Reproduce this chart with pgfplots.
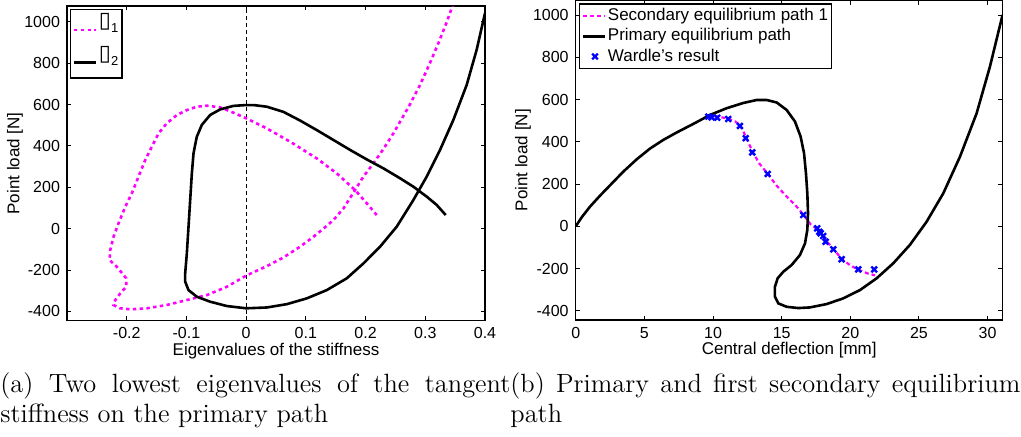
\documentclass[border=0pt]{standalone}
\usepackage{fontspec}
\setsansfont{Liberation Sans}
\newfontfamily\dejavu{DejaVu Sans}
\usepackage{pgfplots}
\pgfplotsset{compat=1.18}
\definecolor{mag}{RGB}{255,0,255}
\definecolor{myblue}{RGB}{0,0,255}
\pgfplotsset{
  mystyle/.style={
    scale only axis,
    axis line style={line width=0.7pt},
    tick style={line width=0.5pt, black},
    major tick length=2.2pt,
    tick align=inside,
    /pgf/number format/assume math mode=true,
    /pgf/number format/1000 sep={},
    scaled ticks=false,
    ticklabel style={font=\sffamily\fontsize{8}{9.6}\selectfont},
    label style={font=\sffamily\fontsize{8.5}{10}\selectfont},
    ytick={-400,-200,0,200,400,600,800,1000},
    legend image code/.code={\draw[##1] (0pt,0pt) -- (11pt,0pt);},
    legend cell align=left,
  },
  markleg/.style={legend image code/.code={\draw[##1] plot coordinates {(6pt,0pt)};}},
  lowleg/.style={legend image code/.code={\draw[##1, line width=1.3pt] (0pt,-1.2pt) -- (11pt,-1.2pt);}},
}
\newcommand\boxglyph[1]{{\dejavu\fontsize{11}{12}\selectfont ▯}\raisebox{-2.3pt}{\fontsize{6.5}{7}\selectfont #1}}
\begin{document}
\begin{tikzpicture}
\useasboundingbox (0,0) rectangle (510.5pt,-218pt);
% ---------------- left axis ----------------
\begin{axis}[mystyle,
  at={(33.5pt,-160.35pt)}, anchor=south west,
  width=209pt, height=157.35pt,
  xmin=-0.3, xmax=0.4, ymin=-445, ymax=1077,
  xtick={-0.2,-0.1,0,0.1,0.2,0.3,0.4},
  xticklabels={-0.2,-0.1,0,0.1,0.2,0.3,0.4},
  xlabel={Eigenvalues of the stiffness},
  ylabel={Point load [N]},
  xlabel style={at={(axis description cs:0.5,-0.109)}, anchor=base},
  ylabel style={at={(axis description cs:-0.1244,0.5)}, anchor=center},
  legend style={at={(axis description cs:0,1)}, anchor=north west,
    xshift=1.5pt, yshift=-1.5pt, draw=black, line width=0.7pt,
    inner xsep=1pt, inner ysep=1pt, row sep=0.5pt,
    font=\sffamily\fontsize{8.5}{10}\selectfont,
    nodes={inner xsep=0.8pt, inner ysep=1.25pt, text height=6.8pt, text depth=6.5pt}},
]
\addplot[black, line width=0.5pt, dash pattern=on 2pt off 1.5pt, forget plot]
  coordinates {(0,-445) (0,1077)};
\addplot[mag, line width=1.3pt, dash pattern=on 1.7pt off 1.7pt, lowleg] coordinates {
(0.2187,66) (0.2020,123) (0.1824,187) (0.1517,268) (0.1183,340) (0.0736,421)
(0.0346,485) (0,534) (-0.0212,561) (-0.0435,587) (-0.0658,595) (-0.0826,590)
(-0.0993,574) (-0.1160,550) (-0.1328,510) (-0.1467,461) (-0.1579,397)
(-0.1690,332) (-0.1802,252) (-0.1914,171) (-0.2025,106) (-0.2137,26)
(-0.2220,-39) (-0.2276,-103) (-0.2287,-152) (-0.2165,-184) (-0.2008,-240)
(-0.2008,-281) (-0.2109,-313) (-0.2192,-345) (-0.2220,-369) (-0.2109,-385)
(-0.1941,-390) (-0.1662,-385) (-0.1328,-369) (-0.0993,-345) (-0.0658,-321)
(-0.0324,-281) (0,-227) (0.0346,-181) (0.0625,-139) (0.0904,-87) (0.1127,-39)
(0.1294,0) (0.1462,42) (0.1629,98) (0.1824,187) (0.1964,252) (0.2131,316)
(0.2298,385) (0.2466,461) (0.2745,602) (0.2912,695) (0.3079,802) (0.3219,897)
(0.3358,998) (0.3470,1090)
};
\addlegendentry{\boxglyph{1}}
\addplot[black, line width=1.3pt, lowleg] coordinates {
(0.3342,66) (0.3191,115) (0.3024,155) (0.2801,203) (0.2577,244) (0.2298,292)
(0.2020,335) (0.1741,381) (0.1462,429) (0.1183,477) (0.0904,523) (0.0625,565)
(0.0346,590) (0.0123,598) (0,598) (-0.0212,594) (-0.0435,577) (-0.0603,550)
(-0.0742,502) (-0.0826,445) (-0.0881,365) (-0.0909,268) (-0.0937,139)
(-0.0965,10) (-0.0993,-119) (-0.1021,-216) (-0.1021,-256) (-0.0965,-297)
(-0.0826,-329) (-0.0603,-353) (-0.0324,-374) (0,-385) (0.0346,-381)
(0.0681,-365) (0.1015,-337) (0.1350,-297) (0.1685,-240) (0.1964,-168)
(0.2243,-87) (0.2522,10) (0.2801,139) (0.3024,252) (0.3247,381) (0.3470,526)
(0.3693,695) (0.3860,865) (0.4,1042)
};
\addlegendentry{\boxglyph{2}}
\end{axis}
% ---------------- right axis ----------------
\begin{axis}[mystyle,
  at={(287.85pt,-160pt)}, anchor=south west,
  width=213.5pt, height=159.75pt,
  xmin=0, xmax=31.1, ymin=-443.6, ymax=1069,
  xtick={0,5,10,15,20,25,30},
  xlabel={Central deflection [mm]},
  ylabel={Point load [N]},
  xlabel style={at={(axis description cs:0.5,-0.1095)}, anchor=base},
  ylabel style={at={(axis description cs:-0.1234,0.5)}, anchor=center},
  legend style={at={(axis description cs:0,1)}, anchor=north west,
    xshift=1.65pt, yshift=-1.4pt, draw=black, line width=0.7pt,
    inner xsep=1pt, inner ysep=1pt, row sep=0pt,
    font=\sffamily\fontsize{8.5}{10}\selectfont,
    nodes={inner xsep=0.8pt, inner ysep=1pt, text height=6.3pt, text depth=1.8pt}},
]
\addplot[mag, line width=1.1pt, dash pattern=on 2pt off 1.5pt] coordinates {
(9.6,523) (10.3,520) (11.1,510) (11.6,497) (12.0,478) (12.4,423) (12.9,350)
(13.4,295) (14.0,248) (14.6,195) (15.3,145) (16.0,100) (16.6,54) (17.1,10)
(17.6,-14) (18.0,-46) (18.4,-80) (18.8,-110) (19.4,-156) (20.0,-185)
(20.6,-206) (21.3,-224) (21.8,-232)
};
\addlegendentry{Secondary equilibrium path 1}
\addplot[black, line width=1.3pt] coordinates {
(0,0) (0.44,43) (1.04,93) (1.77,145) (2.50,194) (3.47,259) (4.44,317)
(5.41,368) (6.38,409) (7.35,444) (8.57,485) (9.78,527) (10.99,559)
(12.21,584) (13.18,598) (13.91,598) (14.64,586) (15.36,551) (15.97,496)
(16.38,425) (16.63,346) (16.77,251) (16.87,156) (16.92,62) (16.87,-17)
(16.70,-81) (16.33,-136) (15.73,-183) (15.12,-215) (14.71,-246) (14.51,-286)
(14.51,-333) (14.76,-365) (15.36,-381) (16.21,-387) (17.06,-384) (18.28,-368)
(19.49,-341) (20.70,-302) (21.92,-246) (23.13,-175) (24.34,-88) (25.56,22)
(26.77,156) (27.99,330) (29.20,535) (30.17,756) (31.09,1001)
};
\addlegendentry{Primary equilibrium path}
\addplot[only marks, myblue, mark=x, mark size=2pt, mark options={line width=1.2pt},
  markleg] coordinates {
(9.66,519) (9.90,516) (10.31,514) (11.11,508) (11.96,475) (12.38,417)
(12.86,350) (13.98,248) (16.57,53.5) (17.59,-9.5) (17.74,-25.6) (17.84,-33)
(18.03,-46) (18.2,-73) (18.76,-109) (19.37,-156) (20.58,-204) (21.74,-204)
};
\addlegendentry{Wardle’s result}
\end{axis}
% ---------------- captions ----------------
\node[anchor=base west, inner sep=0pt, text width=255pt, align=justify,
  font=\fontsize{13.2}{15}\selectfont] at (0pt,-196pt)
  {(a) Two lowest eigenvalues of the tangent\linebreak \mbox{stiffness} on the primary path};
\node[anchor=base west, inner sep=0pt, text width=255pt, align=justify,
  font=\fontsize{13.2}{15}\selectfont] at (255pt,-196pt)
  {(b) Primary and first secondary \mbox{equilibrium} path};
\end{tikzpicture}
\end{document}
